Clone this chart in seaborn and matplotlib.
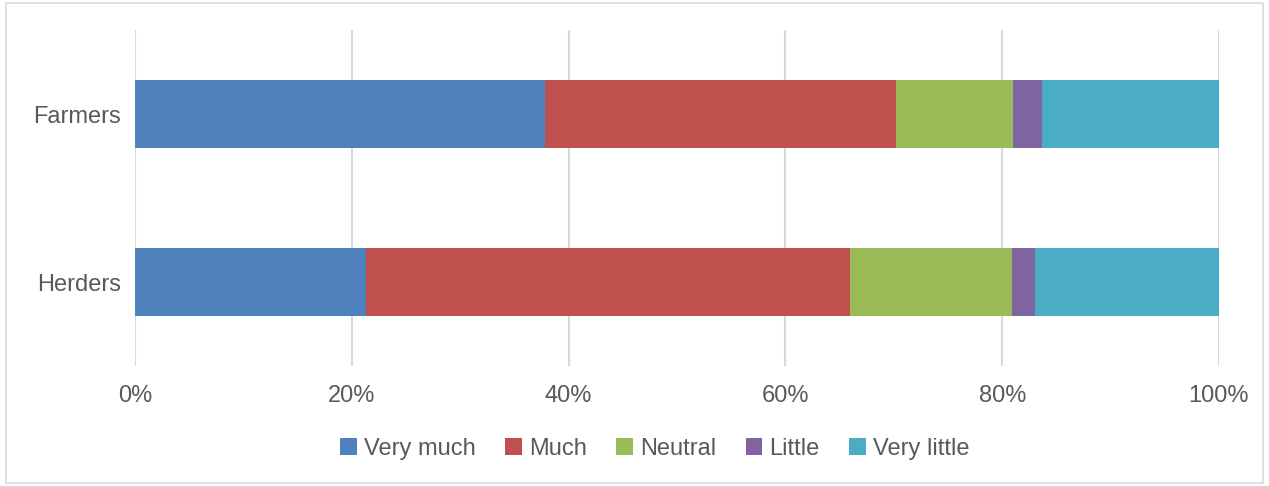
import numpy as np
import pandas as pd
import matplotlib
matplotlib.use("Agg")
import matplotlib.pyplot as plt
import seaborn as sns
from matplotlib.patches import Rectangle
from matplotlib.ticker import FuncFormatter

groups = ["Farmers", "Herders"]
levels = ["Very much", "Much", "Neutral", "Little", "Very little"]
farmers = [37.8, 32.4, 10.8, 2.7, 16.3]
herders = [21.3, 44.7, 14.9, 2.1, 17.0]
colors = ["#4F81BD", "#C0504D", "#9BBB59", "#8064A2", "#4BACC6"]
xticks = [0, 20, 40, 60, 80, 100]

sns.set_theme(style="white")
plt.rcParams["font.family"] = ["Liberation Sans", "DejaVu Sans"]

vals = np.array([farmers, herders])
cum = np.cumsum(vals, axis=1)

fig = plt.figure(figsize=(12.69, 4.86), dpi=100)
ax = fig.add_axes([135/1269, 1-366/486, (1219-135)/1269, 336/486])

# outer chart border
fig.patches.append(Rectangle((6/1269, 3/486), 1257/1269, 480/486, transform=fig.transFigure,
                             fill=False, edgecolor="#D9D9D9", linewidth=1.2))

ax.set_xlim(0, 100)
ax.set_xticks(xticks)
ax.xaxis.grid(True, color="#D9D9D9", linewidth=1.5)
ax.set_axisbelow(True)

# overlay cumulative bars, from the total back to the first segment
for j in range(len(levels) - 1, -1, -1):
    df = pd.DataFrame({"group": groups, "value": cum[:, j] / cum[:, -1] * 100})
    sns.barplot(data=df, x="value", y="group", orient="h", color=colors[j],
                saturation=1, width=0.4, linewidth=0, ax=ax, label=levels[j])

ax.set_ylim(1.5, -0.5)
ax.xaxis.set_major_formatter(FuncFormatter(lambda v, p: f"{v:.0f}%"))
for s in ax.spines.values():
    s.set_visible(False)
ax.set_xlabel("")
ax.set_ylabel("")
ax.tick_params(axis="both", length=0, labelsize=17, labelcolor="#595959")
ax.tick_params(axis="x", pad=14)
ax.tick_params(axis="y", pad=10)

handles, labels = ax.get_legend_handles_labels()
order = [labels.index(l) for l in levels]
leg = fig.legend([handles[i] for i in order], levels, loc="center",
                 bbox_to_anchor=(0.516, 1-449/486), ncol=5, frameon=False,
                 fontsize=17, handlelength=0.7, handleheight=0.7,
                 handletextpad=0.3, columnspacing=1.25, labelcolor="#595959")
if ax.get_legend() is not None:
    ax.get_legend().remove()

fig.savefig("out.png", dpi=100)
